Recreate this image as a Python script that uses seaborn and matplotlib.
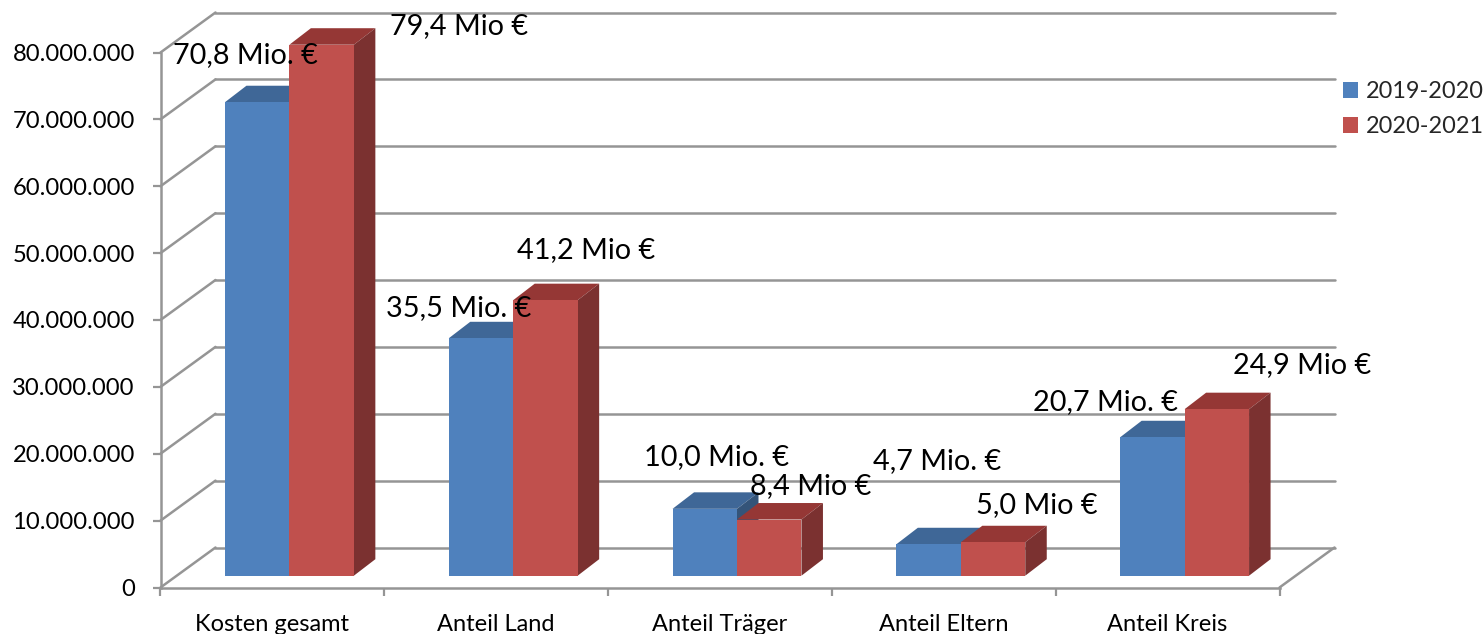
import matplotlib
matplotlib.use("Agg")
import matplotlib.pyplot as plt
import pandas as pd
import seaborn as sns
from matplotlib.patches import Polygon
from matplotlib.lines import Line2D
from matplotlib.ticker import FuncFormatter, FixedLocator
from matplotlib.transforms import Affine2D

categories = ["Kosten gesamt", "Anteil Land", "Anteil Träger", "Anteil Eltern", "Anteil Kreis"]
values_2019 = [70.8e6, 35.5e6, 10.0e6, 4.7e6, 20.7e6]
values_2020 = [79.4e6, 41.2e6, 8.4e6, 5.0e6, 24.9e6]
labels_2019 = ["70,8 Mio. €", "35,5 Mio. €", "10,0 Mio. €", "4,7 Mio. €", "20,7 Mio. €"]
labels_2020 = ["79,4 Mio €", "41,2 Mio €", "8,4 Mio €", "5,0 Mio €", "24,9 Mio €"]
series_names = ["2019-2020", "2020-2021"]

W, H = 1484, 634
GREY = "#959595"
BLUE, RED = "#4F81BD", "#C0504D"
TOP = {BLUE: "#3F6797", RED: "#953735"}
SIDE = {BLUE: "#345479", RED: "#7B3130"}

sns.set_style("white")
plt.rcParams["font.family"] = ["Lato", "DejaVu Sans"]

fig = plt.figure(figsize=(W / 100, H / 100), dpi=100)
left, right, y0, y80 = 160.5, 1279.5, 587.5, 52.5
ax = fig.add_axes([left / W, 1 - y0 / H, (right - left) / W, (y0 - y80) / H])

df = pd.DataFrame({
    "Kategorie": categories * 2,
    "Wert": values_2019 + values_2020,
    "Zeitraum": [series_names[0]] * 5 + [series_names[1]] * 5,
})
sns.barplot(data=df, x="Kategorie", y="Wert", hue="Zeitraum", order=categories,
            hue_order=series_names, palette=[BLUE, RED], saturation=1,
            width=0.576, gap=0, linewidth=0, ax=ax, zorder=3)
ax.set_xlim(-0.5, 4.5)
ax.set_ylim(0, 80e6)
ax.set_xlabel("")
ax.set_ylabel("")

# perspective of the pseudo-3D frame, in pixels
wall = Affine2D().translate(55, 40)
bar_shift = Affine2D().translate(17, 11.8)
depth = (21.5, 16.5)

yticks = [i * 10e6 for i in range(9)]
ax.set_yticks(yticks)
ax.yaxis.set_major_formatter(FuncFormatter(lambda v, _: f"{v:,.0f}".replace(",", ".")))
ax.xaxis.set_minor_locator(FixedLocator([i - 0.5 for i in range(6)]))
ax.tick_params(axis="x", which="major", length=0, pad=19, labelsize=17, colors="black")
ax.tick_params(axis="x", which="minor", length=6, width=1.6, color=GREY, bottom=True)
ax.tick_params(axis="y", length=6, width=1.6, color=GREY, pad=12.5, labelsize=17.1,
               labelcolor="black", left=True)
for s in ("top", "right"):
    ax.spines[s].set_visible(False)
for s in ("left", "bottom"):
    ax.spines[s].set_color(GREY)
    ax.spines[s].set_linewidth(1.8)
    ax.spines[s].set_zorder(2)

# back wall lines and left-wall diagonals
for v in yticks:
    ax.plot([-0.5, 4.5], [v, v], color=GREY, lw=1.8, clip_on=False, zorder=1,
            transform=ax.transData + wall, solid_capstyle="round")
    px, py = ax.transData.transform((-0.5, v))
    ax.add_line(Line2D([px, px + 55], [py, py + 40], color=GREY, lw=1.8, zorder=1,
                       transform=None, clip_on=False))
px, py = ax.transData.transform((4.5, 0))
ax.add_line(Line2D([px, px + 55], [py, py + 40], color=GREY, lw=1.8, zorder=1,
                   transform=None, clip_on=False))

# pseudo-3D bars: every face comes from the bar that seaborn drew
bars = list(ax.patches)
shifted = ax.transData + bar_shift
for n, p in enumerate(bars):
    colour = BLUE if n < 5 else RED
    p.set_transform(shifted)
    p.set_clip_on(False)
    p.set_zorder(4 + n % 5 * 2 + (n >= 5) * 0.5)
    (x0, b), (x1, t) = shifted.transform([(p.get_x(), 0), (p.get_x() + p.get_width(), p.get_height())])
    dx, dy = depth
    top = Polygon([(x0, t), (x1, t), (x1 + dx, t + dy), (x0 + dx, t + dy)],
                  facecolor=TOP[colour], edgecolor="none", transform=None, clip_on=False,
                  zorder=p.get_zorder() - 0.1)
    side = Polygon([(x1, b), (x1 + dx, b + dy), (x1 + dx, t + dy), (x1, t)],
                   facecolor=SIDE[colour], edgecolor="none", transform=None, clip_on=False,
                   zorder=p.get_zorder() - 0.1)
    ax.add_patch(top)
    ax.add_patch(side)

# data labels, placed relative to the top of their bar (pixels right / up)
offsets_2019 = [(-12, 47), (-22.5, 30), (12, 52), (9, 83), (-47, 35)]
offsets_2020 = [(137, 18.5), (41, 50), (41, 33.5), (44, 37), (85, 44)]
texts = labels_2019 + labels_2020
for p, txt, off in zip(bars, texts, offsets_2019 + offsets_2020):
    xc = p.get_x() + p.get_width() / 2
    ax.annotate(txt, xy=(xc, p.get_height()), xycoords=shifted, xytext=off,
                textcoords="offset pixels", ha="center", va="center",
                fontsize=20.8, color="black", zorder=30, annotation_clip=False)

# legend
sns.move_legend(ax, loc="upper left", bbox_to_anchor=(1336 / W, 1 - 74 / H),
                bbox_transform=fig.transFigure, frameon=False, title=None,
                fontsize=16.9, handlelength=0.65, handleheight=0.65,
                handletextpad=0.33, labelspacing=0.61, borderpad=0.3, borderaxespad=0)

fig.savefig("out.png", dpi=100, facecolor="white")
